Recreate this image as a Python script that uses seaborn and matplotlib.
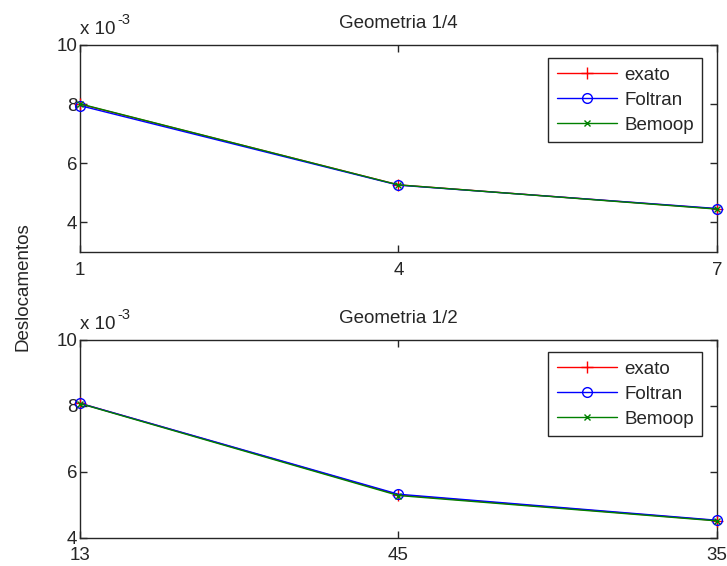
import matplotlib
matplotlib.use("Agg")
import matplotlib.pyplot as plt
import seaborn as sns
import pandas as pd

# Displacements, in units of 1e-3
positions = [1, 2, 3]
labels_top = ["1", "4", "7"]
labels_bottom = ["13", "45", "35"]

exato_14 = [8.00, 5.27, 4.46]
foltran_14 = [7.95, 5.26, 4.47]
bemoop_14 = [8.01, 5.27, 4.45]

exato_12 = [8.08, 5.30, 4.52]
foltran_12 = [8.08, 5.32, 4.53]
bemoop_12 = [8.07, 5.28, 4.51]

series_names = ["exato", "Foltran", "Bemoop"]
yticks = [4, 6, 8, 10]

FS = 13.5

sns.set_style("white")
plt.rcParams["font.family"] = ["Liberation Sans", "DejaVu Sans"]
plt.rcParams["font.size"] = FS

styles = {
    "exato": dict(color="#ff0000", marker="+", markersize=8, markeredgewidth=1.0,
                  markerfacecolor="none"),
    "Foltran": dict(color="#0000ff", marker="o", markersize=7, markeredgewidth=1.0,
                    markerfacecolor="none"),
    "Bemoop": dict(color="#008000", marker="x", markersize=4, markeredgewidth=1.0,
                   markerfacecolor="none"),
}


def draw_panel(ax, values, xlabels, title, ylim):
    for name, vals in zip(series_names, values):
        df = pd.DataFrame({"pos": positions, "val": vals})
        st = styles[name]
        sns.lineplot(data=df, x="pos", y="val", ax=ax, label=name, linewidth=1.0,
                     color=st["color"], marker=st["marker"],
                     markersize=st["markersize"], markeredgewidth=st["markeredgewidth"],
                     markerfacecolor=st["markerfacecolor"], markeredgecolor=st["color"],
                     clip_on=False, zorder=3)
    ax.set_xlim(1, 3)
    ax.set_ylim(*ylim)
    ax.set_xticks(positions)
    ax.set_xticklabels(xlabels)
    ax.set_yticks(yticks)
    ax.set_yticklabels([str(t) for t in yticks])
    ax.set_xlabel("")
    ax.set_ylabel("")
    ax.set_title(title, fontsize=FS, pad=12)
    for sp in ax.spines.values():
        sp.set_visible(True)
        sp.set_color("#262626")
        sp.set_linewidth(1.0)
    ax.tick_params(direction="in", length=5, width=1.0, color="#262626",
                   top=True, right=True, bottom=True, left=True,
                   labelsize=FS)
    ax.tick_params(axis="x", pad=7)
    ax.tick_params(axis="y", pad=2)
    # exponent label above the y axis
    ax.annotate("x 10", xy=(0, 1), xycoords="axes fraction", xytext=(0, 5),
                textcoords="offset points", ha="left", va="bottom", fontsize=FS)
    ax.annotate("-3", xy=(0, 1), xycoords="axes fraction", xytext=(27, 13),
                textcoords="offset points", ha="left", va="bottom", fontsize=10.5)
    leg = ax.legend(loc="upper right", bbox_to_anchor=(0.977, 0.937), frameon=True,
                    fancybox=False, edgecolor="#262626", framealpha=1,
                    handlelength=3.2, handletextpad=0.4, labelspacing=0.42,
                    borderpad=0.45, fontsize=FS, borderaxespad=0)
    leg.get_frame().set_linewidth(1.0)


fig = plt.figure(figsize=(7.27, 5.66), dpi=100)
ax1 = fig.add_axes([0.110, 0.5548, 0.876, 0.3657])
ax2 = fig.add_axes([0.110, 0.0500, 0.876, 0.3493])

draw_panel(ax1, [exato_14, foltran_14, bemoop_14], labels_top, "Geometria 1/4", (3, 10))
draw_panel(ax2, [exato_12, foltran_12, bemoop_12], labels_bottom, "Geometria 1/2", (4, 10))

fig.text(0.032, 0.493, "Deslocamentos", rotation=90, ha="center", va="center",
         fontsize=FS)

fig.savefig("out.png", dpi=100, facecolor="white")
